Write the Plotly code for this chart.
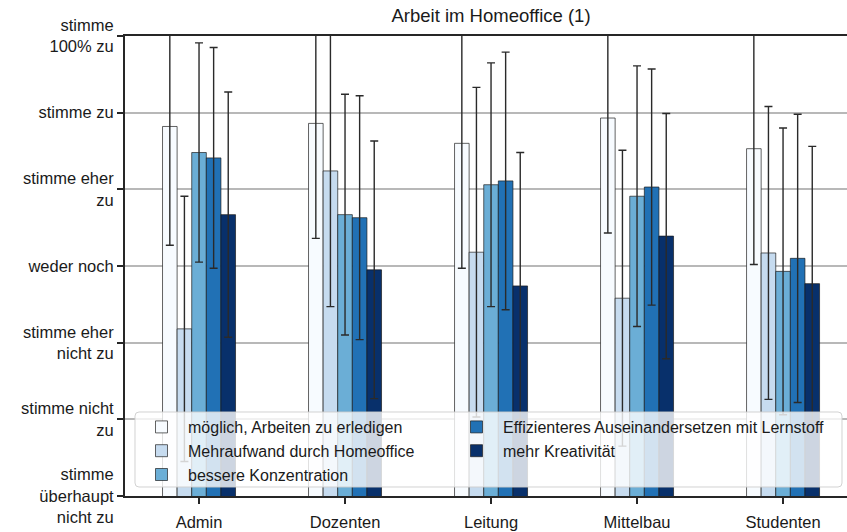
import plotly.graph_objects as go

categories = ["Admin", "Dozenten", "Leitung", "Mittelbau", "Studenten"]

series_names = [
    "möglich, Arbeiten zu erledigen",
    "Mehraufwand durch Homeoffice",
    "bessere Konzentration",
    "Effizienteres Auseinandersetzen mit Lernstoff",
    "mehr Kreativität",
]

moeglich = [5.82, 5.86, 5.60, 5.93, 5.53]
moeglich_err = [1.55, 1.50, 1.63, 1.50, 1.51]

mehraufwand = [3.18, 5.24, 4.18, 3.58, 4.17]
mehraufwand_err = [1.73, 1.77, 2.15, 1.93, 1.91]

konzentration = [5.48, 4.67, 5.06, 4.91, 3.93]
konzentration_err = [1.43, 1.57, 1.59, 1.70, 1.87]

effizienter = [5.41, 4.63, 5.11, 5.03, 4.10]
effizienter_err = [1.44, 1.59, 1.68, 1.54, 1.88]

kreativitaet = [4.67, 3.95, 3.74, 4.39, 3.77]
kreativitaet_err = [1.60, 1.68, 1.74, 1.60, 1.79]

tick_vals = [1, 2, 3, 4, 5, 6, 7]
tick_labels = [
    "stimme<br>überhaupt<br>nicht zu",
    "stimme nicht<br>zu",
    "stimme eher<br>nicht zu",
    "weder noch",
    "stimme eher<br>zu",
    "stimme zu",
    "stimme<br>100% zu",
]

colors = ["#f7fbff", "#c6dbef", "#6baed6", "#2171b5", "#08306b"]
values = [moeglich, mehraufwand, konzentration, effizienter, kreativitaet]
errors = [moeglich_err, mehraufwand_err, konzentration_err, effizienter_err, kreativitaet_err]
legend_ids = ["legend", "legend", "legend", "legend2", "legend2"]

FONT = "Liberation Sans, Arial, Helvetica, sans-serif"

# plot area in pixels
L, R, T, B = 125, 847, 36, 496
PW, PH = R - L, B - T


def px_x(p):
    return (p - L) / PW


def px_y(p):
    return (B - p) / PH


fig = go.Figure()
for name, vals, errs, col, lg in zip(series_names, values, errors, colors, legend_ids):
    fig.add_trace(go.Bar(
        x=categories, y=vals, name=name,
        marker=dict(color=col, line=dict(color="rgba(25,25,25,0.85)", width=0.8)),
        error_y=dict(type="data", array=errs, visible=True,
                     color="#2a2a2a", thickness=1.4, width=4),
        legend=lg,
    ))

# legend frame (semi-transparent, rounded corners)
x0, x1 = px_x(135), px_x(842)
y0, y1 = px_y(487), px_y(412)
rx, ry = 4 / PW, 4 / PH
path = (f"M {x0+rx},{y0} L {x1-rx},{y0} Q {x1},{y0} {x1},{y0+ry} "
        f"L {x1},{y1-ry} Q {x1},{y1} {x1-rx},{y1} L {x0+rx},{y1} "
        f"Q {x0},{y1} {x0},{y1-ry} L {x0},{y0+ry} Q {x0},{y0} {x0+rx},{y0} Z")
fig.add_shape(type="path", path=path, xref="paper", yref="paper",
              fillcolor="rgba(255,255,255,0.8)",
              line=dict(color="rgba(205,205,205,0.9)", width=1), layer="above")

legend_common = dict(
    orientation="v", xanchor="left", yanchor="top",
    bgcolor="rgba(0,0,0,0)", borderwidth=0,
    font=dict(size=16, color="#1a1a1a"), itemwidth=43, traceorder="normal",
    tracegroupgap=0,
)

fig.update_layout(
    width=847, height=532,
    margin=dict(l=L, r=847 - R, t=T, b=532 - B),
    paper_bgcolor="white", plot_bgcolor="white",
    barmode="group", bargap=0.5, bargroupgap=0,
    font=dict(family=FONT, size=16, color="#1a1a1a"),
    title=dict(text="Arbeit im Homeoffice (1)", x=491/847, xanchor="center",
               y=1 - 16/532, yanchor="middle", yref="container",
               font=dict(size=18.5, color="#1a1a1a")),
    showlegend=True,
    legend=dict(x=px_x(135), y=px_y(410), **legend_common),
    legend2=dict(x=px_x(450), y=px_y(410), **legend_common),
    xaxis=dict(
        range=[-0.507, 4.438], showline=True, mirror=True, linecolor="#262626",
        linewidth=2, ticks="outside", ticklen=6, tickwidth=1.5, tickcolor="#262626",
        showgrid=False, tickfont=dict(size=16.5), ticklabelstandoff=4,
    ),
    yaxis=dict(
        range=[1, 7], tickvals=tick_vals, ticktext=tick_labels,
        showline=True, linecolor="#262626", linewidth=2,
        ticks="outside", ticklen=6, tickwidth=1.5, tickcolor="#262626",
        showgrid=True, gridcolor="#b8b8b8", gridwidth=1.5, zeroline=False,
        tickfont=dict(size=16.5),
    ),
)

fig.write_html("out.html", config={"displayModeBar": False},
               post_script="document.body.style.margin='0';document.body.style.overflow='hidden';")
